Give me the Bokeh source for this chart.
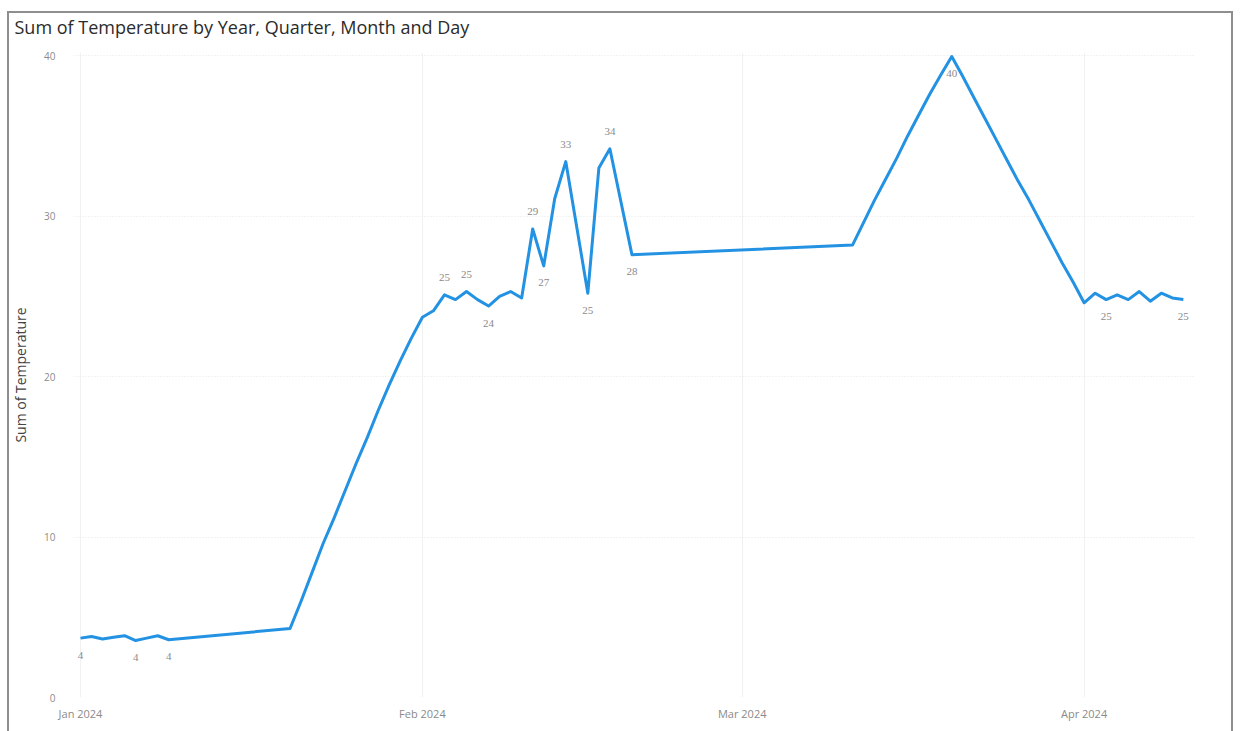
import pandas as pd
from bokeh.plotting import figure
from bokeh.models import (Range1d, FixedTicker, ColumnDataSource, LabelSet, Title,
                          DatetimeTickFormatter)
from bokeh.embed import file_html
from bokeh.resources import INLINE

# Daily temperature sums (days without readings are simply absent)
dates = [
    "2024-01-01", "2024-01-02", "2024-01-03", "2024-01-04", "2024-01-05",
    "2024-01-06", "2024-01-07", "2024-01-08", "2024-01-09",
    "2024-01-20", "2024-01-21", "2024-01-22", "2024-01-23", "2024-01-24",
    "2024-01-25", "2024-01-26", "2024-01-27", "2024-01-28", "2024-01-29",
    "2024-01-30", "2024-01-31",
    "2024-02-01", "2024-02-02", "2024-02-03", "2024-02-04", "2024-02-05",
    "2024-02-06", "2024-02-07", "2024-02-08", "2024-02-09", "2024-02-10",
    "2024-02-11", "2024-02-12", "2024-02-13", "2024-02-14", "2024-02-16",
    "2024-02-17", "2024-02-18", "2024-02-20",
    "2024-03-11", "2024-03-12", "2024-03-13", "2024-03-14", "2024-03-15",
    "2024-03-16", "2024-03-17", "2024-03-18", "2024-03-19", "2024-03-20",
    "2024-03-21", "2024-03-22", "2024-03-23", "2024-03-24", "2024-03-25",
    "2024-03-26", "2024-03-27", "2024-03-28", "2024-03-29", "2024-03-30",
    "2024-03-31",
    "2024-04-01", "2024-04-02", "2024-04-03", "2024-04-04", "2024-04-05",
    "2024-04-06", "2024-04-07", "2024-04-08", "2024-04-09", "2024-04-10",
]
temperature = [
    3.7, 3.8, 3.65, 3.75, 3.85,
    3.55, 3.7, 3.85, 3.6,
    4.3, 6.0, 7.8, 9.6, 11.2,
    12.9, 14.6, 16.2, 17.9, 19.5,
    21.0, 22.4,
    23.7, 24.1, 25.1, 24.8, 25.3,
    24.8, 24.4, 25.0, 25.3, 24.9,
    29.2, 26.9, 31.1, 33.4, 25.2,
    33.0, 34.2, 27.6,
    28.2, 29.6, 31.0, 32.3, 33.6,
    35.0, 36.3, 37.6, 38.8, 39.95,
    38.7, 37.4, 36.1, 34.8, 33.5,
    32.2, 31.0, 29.7, 28.4, 27.1,
    25.9,
    24.6, 25.2, 24.8, 25.1, 24.8,
    25.3, 24.7, 25.2, 24.9, 24.8,
]

# Days that carry a value label, split by where the label sits
labels_above = ["2024-02-03", "2024-02-05", "2024-02-11", "2024-02-14", "2024-02-18"]
labels_below = ["2024-01-01", "2024-01-06", "2024-01-09", "2024-02-07", "2024-02-12",
                "2024-02-16", "2024-02-20", "2024-03-20", "2024-04-03", "2024-04-10"]

month_ticks = ["2024-01-01", "2024-02-01", "2024-03-01", "2024-04-01"]
y_ticks = [0, 10, 20, 30, 40]

df = pd.DataFrame({"date": pd.to_datetime(dates), "temp": temperature})
df["label"] = df["temp"].round().astype(int).astype(str)
df["key"] = dates

src = ColumnDataSource(df)
src_above = ColumnDataSource(df[df["key"].isin(labels_above)])
src_below = ColumnDataSource(df[df["key"].isin(labels_below)])

def ms(d):
    return pd.Timestamp(d).value / 1e6

day = 86400000.0
x_start = ms("2024-01-01") - 0.635 * day
x_end = ms("2024-01-01") + 101.1 * day

W, H = 1226, 731
p = figure(width=W, height=H, x_axis_type="datetime",
           x_range=Range1d(x_start, x_end), y_range=Range1d(0, 40.2),
           output_backend="svg", toolbar_location=None,
           min_border_left=66, min_border_right=38,
           min_border_top=52, min_border_bottom=34)
# visual card outline: grey rules on the top, left and right, painted behind
# the transparent canvas border area
rule = "linear-gradient(#8e8e8e, #8e8e8e)"
p.margin = (0, 0, 0, 7)
p.styles = {
    "background": (f"{rule} 0 11px / 100% 2px no-repeat, "
                   f"{rule} left 0 top 11px / 2px 100% no-repeat, "
                   f"{rule} right 0 top 11px / 2px 100% no-repeat, #ffffff"),
}
p.border_fill_color = None
p.background_fill_color = "white"
p.outline_line_color = None

p.title = None
p.add_layout(Title(text="Sum of Temperature by Year, Quarter, Month and Day",
                   align="left", offset=-59, standoff=23, vertical_align="top",
                   text_font="Open Sans", text_font_size="18px",
                   text_font_style="normal", text_color="#2b2b2b"), "above")

# grid
p.ygrid.grid_line_color = "#e6e6e6"
p.ygrid.grid_line_dash = "1 2"
p.ygrid.ticker = FixedTicker(ticks=[10, 20, 30, 40])
p.xgrid.grid_line_color = "#f1f1f1"
p.xgrid.ticker = FixedTicker(ticks=[ms(t) for t in month_ticks])

# axes
p.xaxis.ticker = FixedTicker(ticks=[ms(t) for t in month_ticks])
p.xaxis.formatter = DatetimeTickFormatter(days="%b %Y", months="%b %Y")
p.yaxis.ticker = FixedTicker(ticks=y_ticks)
for ax in (p.xaxis[0], p.yaxis[0]):
    ax.axis_line_color = None
    ax.major_tick_line_color = None
    ax.minor_tick_line_color = None
    ax.major_tick_out = 0
    ax.minor_tick_out = 0
    ax.major_tick_in = 0
    ax.minor_tick_in = 0
    ax.major_label_text_font = "Open Sans"
    ax.major_label_text_color = "#8a8a8a"
    ax.axis_label_text_font = "Open Sans"
    ax.axis_label_text_font_style = "normal"
    ax.axis_label_text_color = "#444444"
p.xaxis.major_label_text_font_size = "11px"
p.xaxis.major_label_standoff = 8
p.yaxis.major_label_text_font_size = "10px"
p.yaxis.major_label_standoff = 18
p.yaxis.axis_label = "Sum of Temperature"
p.yaxis.axis_label_text_font_size = "14px"
p.yaxis.axis_label_standoff = 11

p.line("date", "temp", source=src, line_color="#2392e2", line_width=3,
       line_join="round")

common = dict(x="date", y="temp", text="label", text_font_size="11px",
              text_color="#8a8a8a", text_align="center", text_baseline="middle",
              text_font="Open Sans")
p.add_layout(LabelSet(source=src_above, y_offset=17, **common))
p.add_layout(LabelSet(source=src_below, y_offset=-17, **common))

html = file_html(p, INLINE)
html = html.replace("<head>", "<head><style>html, body { margin: 0; padding: 0; }</style>", 1)
open("out.html", "w").write(html)
